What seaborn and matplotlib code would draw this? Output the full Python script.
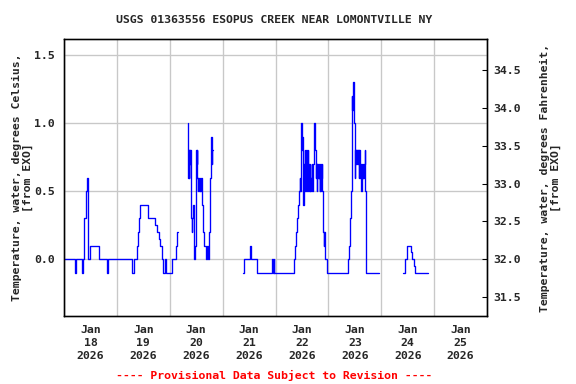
import matplotlib
matplotlib.use("Agg")
import matplotlib.pyplot as plt
import seaborn as sns
import pandas as pd
import numpy as np

# ---- data: hours since 2026-01-18 00:00, water temperature (deg C), step changes ----
seg1_hours = [0.00, 4.81, 5.40, 8.12, 8.58, 8.90, 9.21, 10.12, 10.57, 10.85, 11.94, 15.70,
              19.47, 20.11, 30.82, 31.91, 33.09, 33.54, 33.99, 34.63, 38.08, 41.44, 42.16,
              43.07, 43.71, 44.43, 45.07, 45.66, 46.11, 49.15, 50.65, 51.24, 51.69]
seg1_temp = [0.0, -0.1, 0.0, -0.1, 0.0, 0.1, 0.3, 0.5, 0.6, 0.0, 0.1, 0.0,
             -0.1, 0.0, -0.1, 0.0, 0.1, 0.2, 0.3, 0.4, 0.3, 0.25, 0.2,
             0.15, 0.1, 0.0, -0.1, 0.0, -0.1, 0.0, 0.1, 0.2, 0.2]

seg2_hours = [56.10, 56.23, 56.41, 56.55, 56.69, 56.87, 57.14, 57.32, 57.60, 57.78, 58.05,
              58.23, 58.50, 58.82, 58.96, 59.59, 60.05, 60.18, 60.32, 60.50, 60.77, 60.95,
              61.23, 61.54, 61.86, 62.13, 62.45, 62.77, 62.90, 63.04, 63.36, 64.58, 65.04,
              65.49, 65.76, 66.40, 66.67, 66.85, 67.13, 67.31, 67.58]
seg2_temp = [1.0, 0.7, 0.6, 0.8, 0.6, 0.8, 0.7, 0.8, 0.7, 0.3, 0.2,
             0.3, 0.4, 0.1, 0.0, 0.1, 0.8, 0.7, 0.8, 0.6, 0.5, 0.6,
             0.5, 0.6, 0.5, 0.6, 0.5, 0.4, 0.3, 0.2, 0.1, 0.0, 0.1,
             0.0, 0.2, 0.6, 0.7, 0.9, 0.7, 0.8, 0.8]

seg3_hours = [81.20, 81.51, 84.24, 85.01, 87.73, 94.54, 94.81, 95.13, 95.45, 104.34, 104.66,
              105.25, 105.89, 106.16, 106.48, 106.93, 107.25, 107.38, 107.70, 107.84, 108.16,
              108.29, 108.61, 108.75, 109.06, 109.33, 109.52, 109.65, 109.79, 109.97, 110.11,
              110.24, 110.42, 110.56, 110.70, 110.88, 111.01, 111.33, 111.60, 111.78, 112.06,
              112.38, 112.69, 112.97, 113.28, 113.60, 113.87, 114.05, 114.33, 114.51, 114.78,
              114.96, 115.24, 115.56, 115.87, 116.01, 116.14, 116.32, 116.46, 116.78, 117.05,
              117.23, 117.50, 117.69, 117.82, 118.14, 118.28, 118.59, 119.32,
              129.03, 129.30, 129.62, 129.94, 130.40, 130.67, 130.85, 130.99, 131.12, 131.30,
              131.44, 131.76, 132.03, 132.21, 132.48, 132.66, 132.94, 133.12, 133.39, 133.57,
              133.84, 134.03, 134.30, 134.48, 134.75, 134.93, 135.07, 135.39, 135.66, 135.84,
              136.11, 136.43, 136.57, 137.20, 142.79]
seg3_temp = [-0.1, 0.0, 0.1, 0.0, -0.1, 0.0, -0.1, 0.0, -0.1, 0.0, 0.1,
             0.2, 0.3, 0.4, 0.5, 0.6, 0.5, 0.6, 1.0, 0.8, 0.9,
             0.7, 0.4, 0.7, 0.6, 0.8, 0.5, 0.8, 0.6, 0.8, 0.5,
             0.7, 0.5, 0.8, 0.5, 0.7, 0.6, 0.5, 0.7, 0.5, 0.6,
             0.7, 0.5, 0.7, 0.8, 1.0, 0.9, 0.8, 0.6, 0.7, 0.5,
             0.7, 0.6, 0.7, 0.6, 0.5, 0.7, 0.5, 0.7, 0.6, 0.7,
             0.5, 0.4, 0.2, 0.1, 0.2, 0.1, 0.0, -0.1,
             0.0, 0.1, 0.2, 0.3, 0.5, 1.2, 1.1, 1.2, 1.1, 1.3,
             1.0, 1.0, 0.6, 0.8, 0.7, 0.8, 0.7, 0.8, 0.7, 0.8,
             0.6, 0.8, 0.7, 0.6, 0.7, 0.5, 0.7, 0.6, 0.7, 0.6,
             0.7, 0.8, 0.5, -0.1, -0.1]

seg4_hours = [153.81, 154.90, 155.63, 157.31, 157.90, 158.67, 159.12, 165.25]
seg4_temp = [-0.1, 0.0, 0.1, 0.05, 0.0, -0.05, -0.1, -0.1]

day_ticks = [12, 36, 60, 84, 108, 132, 156, 180]
day_labels = ["Jan\n18\n2026", "Jan\n19\n2026", "Jan\n20\n2026", "Jan\n21\n2026",
              "Jan\n22\n2026", "Jan\n23\n2026", "Jan\n24\n2026", "Jan\n25\n2026"]
midnights = [0, 24, 48, 72, 96, 120, 144, 168, 192]
c_ticks = [0.0, 0.5, 1.0, 1.5]
f_ticks = [31.5, 32.0, 32.5, 33.0, 33.5, 34.0, 34.5]

title = "USGS 01363556 ESOPUS CREEK NEAR LOMONTVILLE NY"
ylabel_c = "Temperature, water, degrees Celsius,\n[from EXO]"
ylabel_f = "Temperature, water, degrees Fahrenheit,\n[from EXO]"
footer = "---- Provisional Data Subject to Revision ----"

# ---- build frame ----
frames = []
for i, (h, t) in enumerate([(seg1_hours, seg1_temp), (seg2_hours, seg2_temp),
                            (seg3_hours, seg3_temp), (seg4_hours, seg4_temp)]):
    frames.append(pd.DataFrame({"hours": h, "temp": t, "seg": i}))
df = pd.concat(frames, ignore_index=True)

sns.set_style("white")
plt.rcParams["font.family"] = ["DejaVu Sans Mono", "DejaVu Sans"]
plt.rcParams["font.weight"] = "bold"

FS = 8.6

fig = plt.figure(figsize=(6, 4), dpi=96)
ax = fig.add_axes([64 / 576, 1 - 316 / 384, 423 / 576, 277 / 384])

sns.lineplot(data=df, x="hours", y="temp", units="seg", estimator=None, sort=False,
             color="#0000ff", linewidth=1.0, drawstyle="steps-post", ax=ax, legend=False)

ylo, yhi = -0.417, 1.618
ax.set_xlim(0, 192)
ax.set_ylim(ylo, yhi)

ax.set_xticks(midnights)
ax.set_xticklabels([])
ax.set_xticks(day_ticks, minor=True)
ax.set_xticklabels(day_labels, minor=True, fontsize=FS, fontweight="bold", linespacing=1.38)
ax.tick_params(axis="x", which="minor", length=0, pad=7)
ax.tick_params(axis="x", which="major", direction="in", length=3, color="#c8c8c8")
ax.set_yticks(c_ticks)
ax.set_yticklabels([f"{v:.1f}" for v in c_ticks], fontsize=FS, fontweight="bold")
ax.tick_params(axis="y", direction="in", length=4, color="#c8c8c8", pad=7)
ax.grid(True, which="major", color="#c8c8c8", linewidth=1.0)
ax.set_axisbelow(True)
for s in ax.spines.values():
    s.set_color("black")
    s.set_linewidth(1.0)
ax.set_xlabel("")
ax.set_ylabel(ylabel_c, fontsize=FS, fontweight="bold", linespacing=1.1)
ax.yaxis.set_label_coords(-0.073, 0.5)

ax2 = ax.twinx()
ax2.set_ylim(32 + 1.8 * ylo, 32 + 1.8 * yhi)
ax2.set_yticks(f_ticks)
ax2.set_yticklabels([f"{v:.1f}" for v in f_ticks], fontsize=FS, fontweight="bold")
ax2.tick_params(axis="y", direction="in", length=4, color="black", pad=5)
ax2.set_ylabel(ylabel_f, fontsize=FS, fontweight="bold", linespacing=1.1)
ax2.yaxis.set_label_coords(1.125, 0.5)
for s in ax2.spines.values():
    s.set_color("black")
    s.set_linewidth(1.0)

fig.text(274 / 576, 1 - 20 / 384, title, ha="center", va="center",
         fontsize=FS, fontweight="bold")
fig.text(274.5 / 576, 1 - 375 / 384, footer, ha="center", va="center",
         fontsize=FS, fontweight="bold", color="red")

fig.savefig("out.png", dpi=96)
